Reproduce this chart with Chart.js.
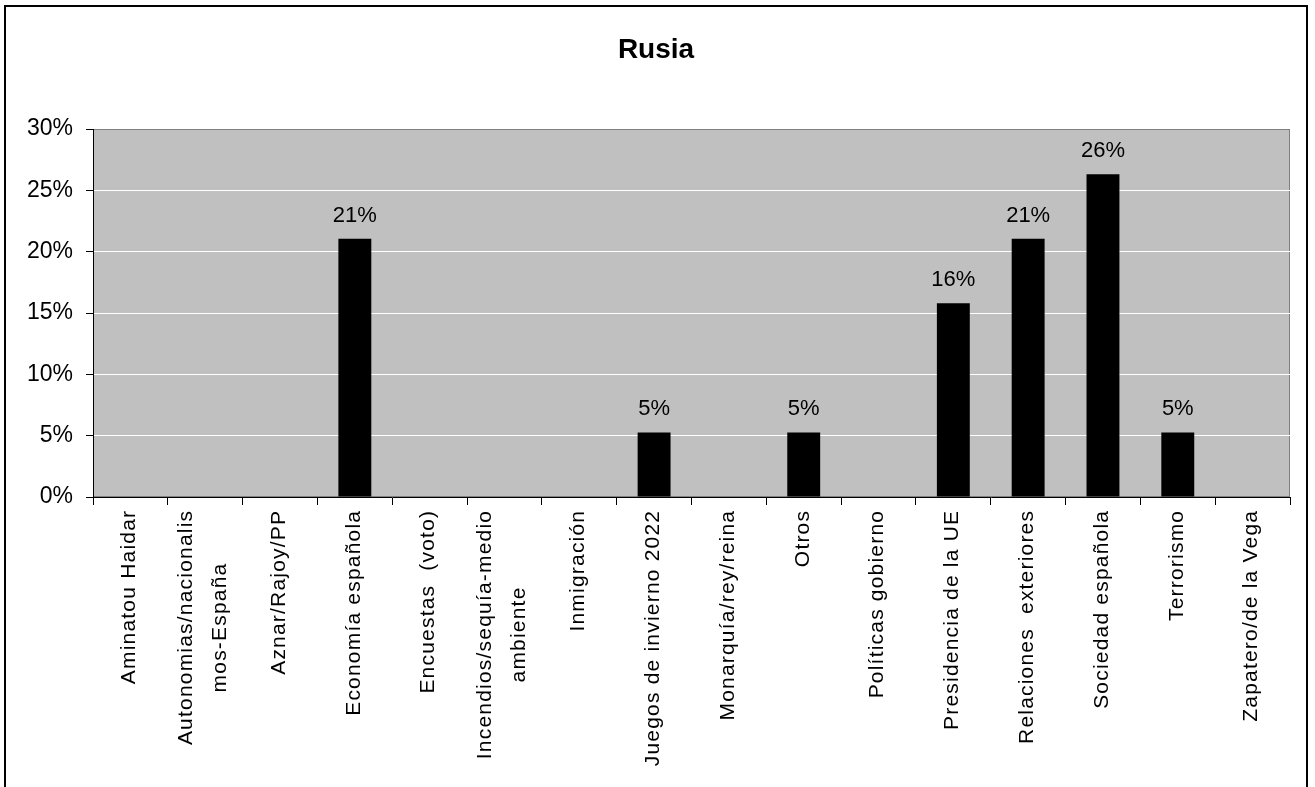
<!DOCTYPE html>
<html>
<head>
<meta charset="utf-8">
<script src="https://cdn.jsdelivr.net/npm/chart.js@4/dist/chart.umd.min.js"></script>
<style>
html,body{margin:0;padding:0;background:#fff;}
#wrap{width:1315px;height:787px;position:relative;}
canvas{display:block;}
</style>
</head>
<body>
<div id="wrap"><canvas id="c" width="1315" height="787"></canvas></div>
<script>
const chartTitle = 'Rusia';
const categories = [
  'Aminatou Haidar',
  ['Autonomias/nacionalis', 'mos-España'],
  'Aznar/Rajoy/PP',
  'Economía española',
  'Encuestas  (voto)',
  ['Incendios/sequía-medio', 'ambiente'],
  'Inmigración',
  'Juegos de invierno 2022',
  'Monarquía/rey/reina',
  'Otros',
  'Políticas gobierno',
  'Presidencia de la UE',
  'Relaciones  exteriores',
  'Sociedad española',
  'Terrorismo',
  'Zapatero/de la Vega'
];
const values = [0, 0, 0, 21.05, 0, 0, 0, 5.26, 0, 5.26, 0, 15.79, 21.05, 26.32, 5.26, 0];
const yTickValues = [0, 5, 10, 15, 20, 25, 30];

const FONT = "'Liberation Sans', Arial, Helvetica, sans-serif";

const framePlugin = {
  id: 'frame',
  beforeDraw(chart) {
    const {ctx, chartArea: a} = chart;
    ctx.save();
    ctx.fillStyle = '#c0c0c0';
    ctx.fillRect(a.left, a.top, a.right - a.left, a.bottom - a.top);
    ctx.strokeStyle = '#808080';
    ctx.lineWidth = 1;
    ctx.strokeRect(a.left + 0.5, a.top + 0.5, a.right - a.left - 1, a.bottom - a.top - 1);
    ctx.restore();
  },
  afterDatasetsDraw(chart) {
    const {ctx} = chart;
    const meta = chart.getDatasetMeta(0);
    ctx.save();
    ctx.font = '22px ' + FONT;
    ctx.fillStyle = '#000';
    ctx.textAlign = 'center';
    ctx.textBaseline = 'alphabetic';
    meta.data.forEach((bar, i) => {
      const v = values[i];
      if (v > 0) ctx.fillText(Math.round(v) + '%', bar.x, bar.y - 17);
    });
    ctx.restore();
  },
  afterDraw(chart) {
    const {ctx} = chart;
    const xs = chart.scales.x;
    ctx.save();
    // title
    ctx.font = 'bold 28px ' + FONT;
    ctx.fillStyle = '#000';
    ctx.textAlign = 'center';
    ctx.textBaseline = 'middle';
    ctx.fillText(chartTitle, 656, 50);
    // category labels
    ctx.font = '21px ' + FONT;
    const ls = 1.2;
    try { ctx.letterSpacing = ls + 'px'; } catch (e) {}
    ctx.textBaseline = 'middle';
    ctx.textAlign = 'center';
    categories.forEach((lab, i) => {
      const lines = Array.isArray(lab) ? lab : [lab];
      const x = xs.getPixelForValue(i);
      const widths = lines.map(l => ctx.measureText(l).width);
      const maxW = Math.max(...widths);
      const offs = lines.length === 1 ? [-1] : [-19, 15];
      lines.forEach((l, j) => {
        ctx.save();
        ctx.translate(x + offs[j], 511);
        ctx.rotate(-Math.PI / 2);
        ctx.fillText(l, -(maxW - ls) / 2 + ls / 2, 0);
        ctx.restore();
      });
    });
    // outer frame
    try { ctx.letterSpacing = '0px'; } catch (e) {}
    ctx.strokeStyle = '#000';
    ctx.lineWidth = 2;
    ctx.strokeRect(5, 6, 1302, 800);
    ctx.restore();
  }
};

new Chart(document.getElementById('c'), {
  type: 'bar',
  data: {
    labels: categories,
    datasets: [{
      data: values,
      backgroundColor: '#000000',
      borderWidth: 0,
      barPercentage: 0.44,
      categoryPercentage: 1.0
    }]
  },
  options: {
    responsive: false,
    devicePixelRatio: 1,
    animation: false,
    layout: {padding: {left: 0, right: 25, top: 129, bottom: 0}},
    plugins: {
      legend: {display: false},
      tooltip: {enabled: false},
      title: {display: false}
    },
    scales: {
      x: {
        grid: {
          display: true,
          offset: true,
          drawOnChartArea: false,
          drawTicks: true,
          tickLength: 8,
          color: '#000',
          tickColor: '#000'
        },
        border: {display: true, color: '#000', width: 1},
        ticks: {display: false},
        afterFit(scale) { scale.height = 290; }
      },
      y: {
        min: 0,
        max: 30,
        afterBuildTicks(scale) { scale.ticks = yTickValues.map(v => ({value: v})); },
        grid: {
          color: (c) => (c.tick && (c.tick.value === 0 || c.tick.value === 30)) ? 'rgba(0,0,0,0)' : '#ffffff',
          tickColor: '#000',
          tickLength: 7,
          lineWidth: 1
        },
        border: {display: true, color: '#000', width: 1},
        ticks: {
          color: '#000',
          padding: 13,
          font: {family: FONT, size: 23},
          callback: (v) => v + '%'
        },
        afterFit(scale) { scale.width = 93; }
      }
    }
  },
  plugins: [framePlugin]
});
</script>
</body>
</html>
